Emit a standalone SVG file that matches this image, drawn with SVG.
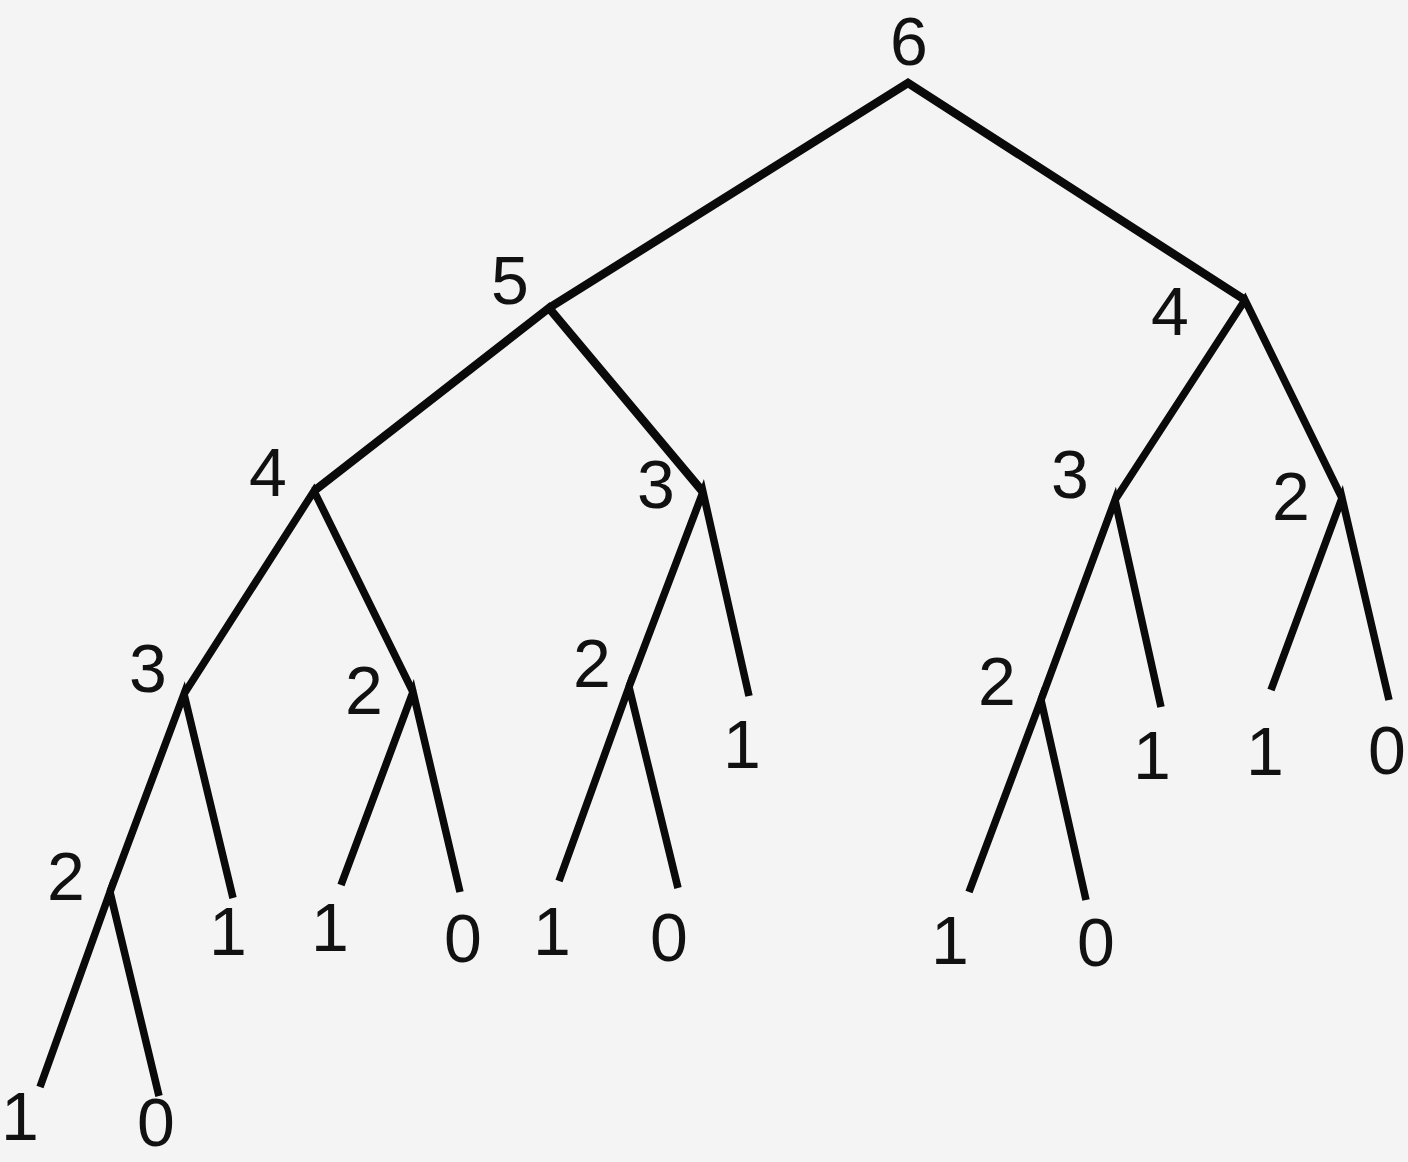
<svg xmlns="http://www.w3.org/2000/svg" width="1408" height="1162" viewBox="0 0 1408 1162">
<style>
.e{fill:none;stroke:#0a0a0a;stroke-linejoin:miter;stroke-miterlimit:20;stroke-linecap:butt}
.t{stroke-width:8.5}
.m{stroke-width:7.5}
text{font-family:"Liberation Sans","DejaVu Sans",sans-serif;font-size:68px;fill:#111;text-anchor:middle}
</style>
<rect width="1408" height="1162" fill="#f3f4f3"/>
<g id="connectors">
<path class="e t" d="M549,308 L908,83 L1245,300"/>
<path class="e t" d="M314,491 L549,308 L703,492"/>
<path class="e m" d="M184,694 L314,491 L413,692"/>
<path class="e m" d="M629,687 L703,492 L749,696"/>
<path class="e m" d="M110,892 L184,694 L233,898"/>
<path class="e m" d="M341,885 L413,692 L460,892"/>
<path class="e m" d="M559,881 L629,687 L678,888"/>
<path class="e m" d="M40,1087 L110,892 L159,1096"/>
<path class="e m" d="M1115,500 L1245,300 L1342,498"/>
<path class="e m" d="M1041,700 L1115,500 L1161,707"/>
<path class="e m" d="M1271,690 L1342,498 L1389,700"/>
<path class="e m" d="M969,892 L1041,700 L1086,900"/>
</g>
<g id="n6"><text x="909" y="65">6</text></g>
<g id="n5"><text x="510" y="304">5</text></g>
<g id="n4R"><text x="1170" y="335">4</text></g>
<g id="n4L"><text x="268" y="496">4</text></g>
<g id="n3M"><text x="656" y="508">3</text></g>
<g id="n3R"><text x="1070" y="498">3</text></g>
<g id="n2R"><text x="1291" y="520">2</text></g>
<g id="n3L"><text x="148" y="692">3</text></g>
<g id="n2a"><text x="364" y="714">2</text></g>
<g id="n2b"><text x="592" y="687">2</text></g>
<g id="n2d"><text x="997" y="705">2</text></g>
<g id="n2c"><text x="66" y="900">2</text></g>
<g id="l1"><text x="742" y="768">1</text></g>
<g id="l2"><text x="1152" y="779">1</text></g>
<g id="l3"><text x="1265" y="775">1</text></g>
<g id="l4"><text x="1387" y="774">0</text></g>
<g id="l5"><text x="228" y="955">1</text></g>
<g id="l6"><text x="330" y="951">1</text></g>
<g id="l7"><text x="463" y="962">0</text></g>
<g id="l8"><text x="552" y="955">1</text></g>
<g id="l9"><text x="669" y="961">0</text></g>
<g id="l10"><text x="950" y="964">1</text></g>
<g id="l11"><text x="1096" y="966">0</text></g>
<g id="l12"><text x="20" y="1140">1</text></g>
<g id="l13"><text x="156" y="1146">0</text></g>
</svg>
